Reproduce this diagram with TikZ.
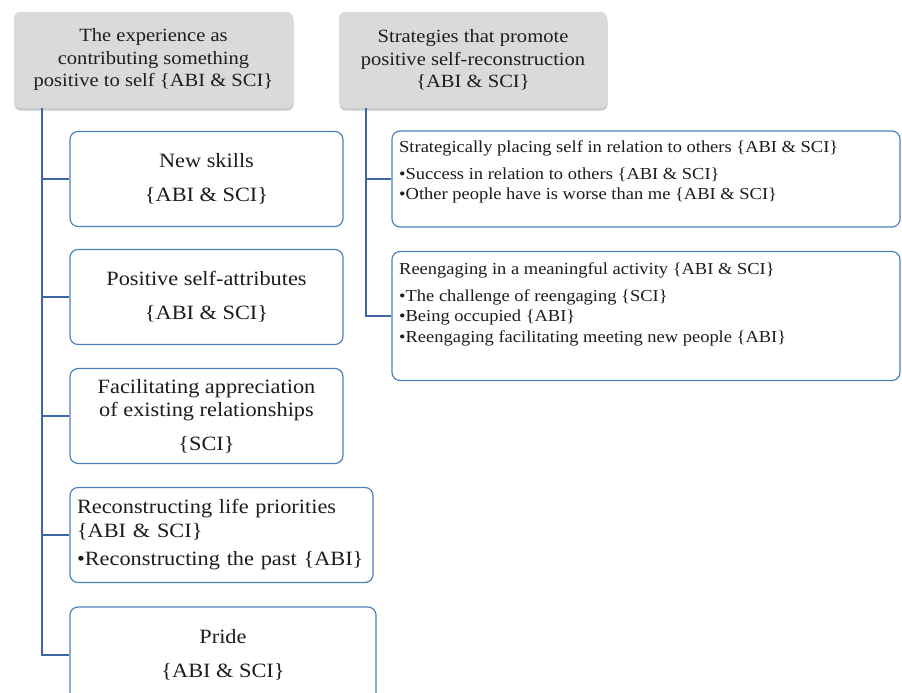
\documentclass[tikz,border=0pt]{standalone}
\usepackage{fontspec}
\setmainfont[FakeStretch=1.1]{Liberation Serif}
\usetikzlibrary{shadows}
\definecolor{boxblue}{RGB}{79,129,189}
\definecolor{linkblue}{RGB}{62,103,166}
\definecolor{hdrgray}{RGB}{218,218,220}
\definecolor{txt}{RGB}{30,28,28}
\begin{document}
\begin{tikzpicture}[x=1pt,y=-1pt,
  hdr/.style={fill=hdrgray, rounded corners=6pt, inner sep=0pt, text=txt,
    align=center, font=\fontsize{18.7}{22.5}\selectfont,
    drop shadow={shadow xshift=0.5pt, shadow yshift=-2.5pt, opacity=0.35, fill=black!60}},
  lbox/.style={draw=boxblue, line width=1.2pt, fill=white, rounded corners=8pt,
    inner sep=0pt, text=txt, font=\fontsize{20.3}{34}\selectfont, align=center},
  rbox/.style={draw=boxblue, line width=1.2pt, fill=white, rounded corners=8pt, inner sep=0pt},
  rtext/.style={inner sep=0pt, text=txt, align=left, font=\fontsize{16.8}{20.5}\selectfont},
  link/.style={draw=linkblue, line width=1.6pt}]
\useasboundingbox (0,0) rectangle (902,693);
\clip (0,0) rectangle (902,693);

% headers
\node[hdr, minimum width=279pt, minimum height=96pt] (h1) at (153.5,60)
  {The experience as\\contributing something\\positive to self \{ABI \& SCI\}};
\node[hdr, minimum width=268pt, minimum height=96pt] (h2) at (473,60)
  {Strategies that promote\\positive self-reconstruction\\\{ABI \& SCI\}};

% left boxes
\node[lbox, minimum width=273pt, minimum height=95pt] (b1) at (206.5,179)
  {New skills\\\{ABI \& SCI\}};
\node[lbox, minimum width=273pt, minimum height=95pt] (b2) at (206.5,297)
  {Positive self-attributes\\\{ABI \& SCI\}};
\node[lbox, minimum width=273pt, minimum height=95pt, font=\fontsize{20.3}{23}\selectfont] (b3) at (206.5,416)
  {Facilitating appreciation\\of existing relationships\\[11pt]\{SCI\}};
\node[lbox, minimum width=303pt, minimum height=95pt, align=left, text width=289pt,
  font=\fontsize{20.3}{24}\selectfont] (b4) at (221.5,535)
  {Reconstructing life priorities\\\{ABI \& SCI\}\\[4pt]\textbullet Reconstructing the past \{ABI\}};
\node[lbox, minimum width=306pt, minimum height=96pt] (b5) at (223,655)
  {Pride\\\{ABI \& SCI\}};

% right boxes
\node[rbox, minimum width=508pt, minimum height=96pt] (r1) at (646,179) {};
\node[rbox, minimum width=508pt, minimum height=129pt] (r2) at (646,316) {};
\node[rtext, anchor=north west] (r1t) at (399,140)
  {Strategically placing self in relation to others \{ABI \& SCI\}\\[6.5pt]
   \textbullet Success in relation to others \{ABI \& SCI\}\\
   \textbullet Other people have is worse than me \{ABI \& SCI\}};
\node[rtext, anchor=north west] (r2t) at (399,262)
  {Reengaging in a meaningful activity \{ABI \& SCI\}\\[6.5pt]
   \textbullet The challenge of reengaging \{SCI\}\\
   \textbullet Being occupied \{ABI\}\\
   \textbullet Reengaging facilitating meeting new people \{ABI\}};

% connectors
\draw[link] ([xshift=28pt]h1.south west) |- (b1.west);
\draw[link] ([xshift=28pt]h1.south west) |- (b2.west);
\draw[link] ([xshift=28pt]h1.south west) |- (b3.west);
\draw[link] ([xshift=28pt]h1.south west) |- (b4.west);
\draw[link] ([xshift=28pt]h1.south west) |- (b5.west);
\draw[link] ([xshift=27pt]h2.south west) |- (r1.west);
\draw[link] ([xshift=27pt]h2.south west) |- (r2.west);
\end{tikzpicture}
\end{document}
